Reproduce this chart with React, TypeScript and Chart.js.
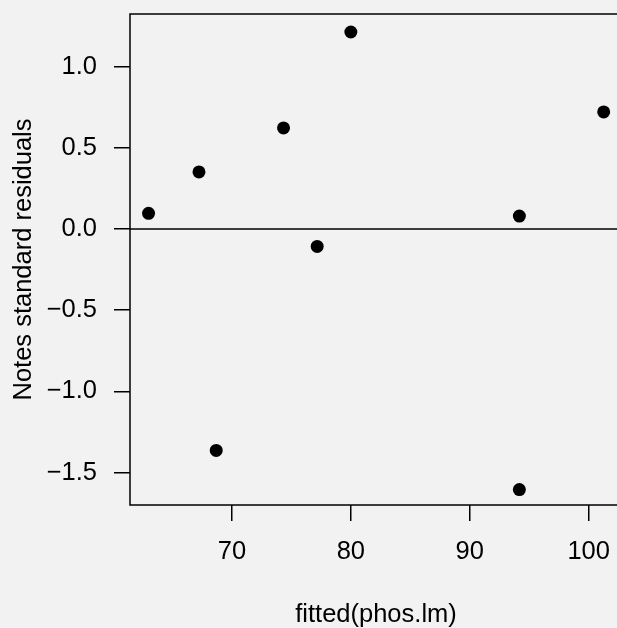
import React, { useEffect, useRef } from "react";
import { Chart, registerables } from "chart.js";

Chart.register(...registerables);

// Data (fitted values vs. standardized residuals)
const fittedValues = [62.99, 67.23, 68.68, 74.34, 77.17, 80.0, 94.17, 94.17, 101.26];
const stdResiduals = [0.097, 0.352, -1.364, 0.623, -0.107, 1.214, -1.605, 0.08, 0.722];
const xTickValues = [70, 80, 90, 100];
const yTickValues = [-1.5, -1.0, -0.5, 0.0, 0.5, 1.0];
const xAxisLabel = "fitted(phos.lm)";
const yAxisLabel = "Notes standard residuals";

const FONT = "'Liberation Sans', Arial, Helvetica, sans-serif";
const FONT_SIZE = 25.5;
const BG = "#f2f2f2";

const fmtY = (v: number) => {
  const s = Math.abs(v).toFixed(1);
  return v < 0 ? "\u2212" + s : s;
};

export default function App() {
  const ref = useRef<HTMLCanvasElement | null>(null);

  useEffect(() => {
    const canvas = ref.current;
    if (!canvas) return;

    const bgPlugin = {
      id: "bgFill",
      beforeDraw(chart: any) {
        const ctx = chart.ctx;
        ctx.save();
        ctx.fillStyle = BG;
        ctx.fillRect(0, 0, chart.width, chart.height);
        ctx.restore();
      },
    };

    const boxPlugin = {
      id: "boxAndZero",
      beforeDatasetsDraw(chart: any) {
        const { ctx, chartArea, scales } = chart;
        ctx.save();
        ctx.strokeStyle = "#000";
        ctx.lineWidth = 1.5;
        // zero reference line
        const y0 = scales.y.getPixelForValue(0);
        ctx.beginPath();
        ctx.moveTo(chartArea.left, y0);
        ctx.lineTo(chartArea.right, y0);
        ctx.stroke();
        // plot box
        ctx.strokeRect(
          chartArea.left,
          chartArea.top,
          chartArea.right - chartArea.left,
          chartArea.bottom - chartArea.top
        );
        ctx.restore();
      },
    };

    const chart = new Chart(canvas, {
      type: "scatter",
      data: {
        datasets: [
          {
            data: fittedValues.map((x, i) => ({ x, y: stdResiduals[i] })),
            pointRadius: 6.5,
            pointHoverRadius: 6.5,
            pointBackgroundColor: "#000",
            pointBorderWidth: 0,
            borderColor: "#000",
          },
        ],
      },
      options: {
        animation: false,
        responsive: false,
        devicePixelRatio: 1,
        layout: { autoPadding: false, padding: { top: 14, left: 0, right: 0, bottom: 0 } },
        plugins: {
          legend: { display: false },
          tooltip: { enabled: false },
        },
        scales: {
          x: {
            type: "linear",
            min: 61.43,
            max: 102.8,
            afterBuildTicks: (scale: any) => {
              scale.ticks = xTickValues.map((value) => ({ value }));
            },
            afterFit: (scale: any) => {
              scale.height = 123;
              scale.paddingLeft = 0;
              scale.paddingRight = 0;
            },
            border: { display: false },
            grid: {
              drawOnChartArea: false,
              drawTicks: true,
              tickLength: 16,
              color: "#000",
              lineWidth: 1.5,
            },
            ticks: {
              color: "#000",
              padding: 16,
              maxRotation: 0,
              autoSkip: false,
              font: { family: FONT, size: FONT_SIZE },
              callback: (v: any) => String(v),
            },
            title: {
              display: true,
              text: xAxisLabel,
              color: "#000",
              font: { family: FONT, size: FONT_SIZE },
              padding: { top: 0, bottom: -2 },
            },
          },
          y: {
            type: "linear",
            min: -1.7,
            max: 1.325,
            afterBuildTicks: (scale: any) => {
              scale.ticks = yTickValues.map((value) => ({ value }));
            },
            afterFit: (scale: any) => {
              scale.width = 130;
              scale.paddingTop = 0;
              scale.paddingBottom = 0;
            },
            border: { display: false },
            grid: {
              drawOnChartArea: false,
              drawTicks: true,
              tickLength: 16,
              color: "#000",
              lineWidth: 1.5,
            },
            ticks: {
              color: "#000",
              padding: 17,
              autoSkip: false,
              font: { family: FONT, size: FONT_SIZE },
              callback: (v: any) => fmtY(Number(v)),
            },
            title: {
              display: true,
              text: yAxisLabel,
              color: "#000",
              font: { family: FONT, size: FONT_SIZE },
              padding: { top: 9, bottom: 0 },
            },
          },
        },
      },
      plugins: [bgPlugin, boxPlugin],
    });

    return () => {
      chart.destroy();
    };
  }, []);

  return (
    <div
      style={{
        position: "fixed",
        left: 0,
        top: 0,
        width: 617,
        height: 628,
        overflow: "hidden",
        background: BG,
      }}
    >
      <canvas
        ref={ref}
        width={622}
        height={628}
        style={{ display: "block", width: 622, height: 628 }}
      />
    </div>
  );
}
